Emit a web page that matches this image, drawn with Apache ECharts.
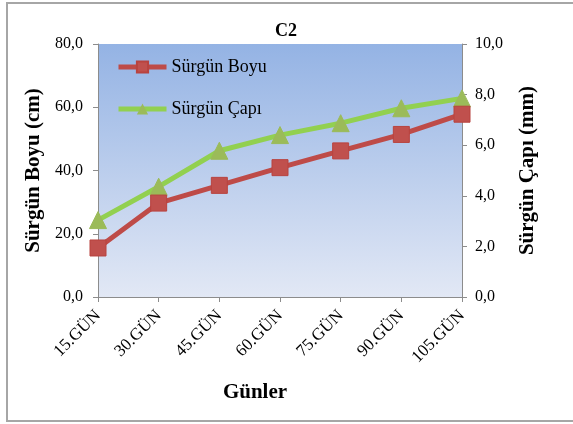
<!DOCTYPE html>
<html><head><meta charset="utf-8">
<script src="https://cdn.jsdelivr.net/npm/echarts@6/dist/echarts.min.js"></script>
<style>
html,body{margin:0;padding:0;background:#fff;}
#frame{position:absolute;left:6px;top:2px;width:570px;height:420px;border:2px solid #a6a6a6;box-sizing:border-box;}
#c{position:absolute;left:0;top:0;width:573px;height:424px;}
</style></head>
<body>
<div id="frame"></div>
<div id="c"></div>
<script>
const categories = ['15.GÜN','30.GÜN','45.GÜN','60.GÜN','75.GÜN','90.GÜN','105.GÜN'];
const boyu = [15.5, 29.7, 35.3, 40.9, 46.2, 51.4, 57.8];
const cap = [3.04, 4.36, 5.78, 6.40, 6.87, 7.46, 7.85];
const leftTicks = [0, 20, 40, 60, 80];
const rightTicks = [0, 2, 4, 6, 8, 10];

const serif = '"Liberation Serif", "DejaVu Serif", serif';
const chart = echarts.init(document.getElementById('c'));
const fmt = v => v.toFixed(1).replace('.', ',');
chart.setOption({
  animation: false,
  title: {text: 'C2', left: 270, top: 17,
    textStyle: {fontFamily: serif, fontWeight: 'bold', fontSize: 18, color: '#000'}},
  grid: {left: 98, right: 111, top: 44, bottom: 127,
    show: true, borderWidth: 0,
    backgroundColor: new echarts.graphic.LinearGradient(0,0,0,1,[
      {offset: 0, color: '#94b3e4'}, {offset: 1, color: '#e2e8f5'}])},
  legend: {left: 111, top: 53, orient: 'vertical', itemGap: 24, itemWidth: 48, itemHeight: 14,
    lineStyle: {width: 5},
    textStyle: {fontFamily: serif, fontSize: 18, color: '#000'},
    data: ['Sürgün Boyu', 'Sürgün Çapı']},
  xAxis: {type: 'category', data: categories, boundaryGap: false,
    name: 'Günler', nameLocation: 'middle', nameGap: 85,
    nameTextStyle: {fontFamily: serif, fontWeight: 'bold', fontSize: 21, color: '#000', padding: [0, 50, 0, 0]},
    axisLine: {lineStyle: {color: '#8c8c8c', width: 1}},
    axisTick: {show: true, length: 5, alignWithLabel: true, lineStyle: {color: '#8c8c8c'}},
    axisLabel: {rotate: 45, fontFamily: serif, fontSize: 17, color: '#000', margin: 16, interval: 0},
    splitLine: {show: false}},
  yAxis: [
    {type: 'value', min: leftTicks[0], max: leftTicks[leftTicks.length-1], interval: 20,
     name: 'Sürgün Boyu (cm)', nameLocation: 'middle', nameGap: 51, nameRotate: 90,
     nameTextStyle: {fontFamily: serif, fontWeight: 'bold', fontSize: 21, color: '#000'},
     axisLine: {show: true, lineStyle: {color: '#8c8c8c'}},
     axisTick: {show: true, length: 5, lineStyle: {color: '#8c8c8c'}},
     axisLabel: {formatter: fmt, fontFamily: serif, fontSize: 16, color: '#000', margin: 15},
     splitLine: {show: false}},
    {type: 'value', min: rightTicks[0], max: rightTicks[rightTicks.length-1], interval: 2,
     name: 'Sürgün Çapı (mm)', nameLocation: 'middle', nameGap: 55, nameRotate: 90,
     nameTextStyle: {fontFamily: serif, fontWeight: 'bold', fontSize: 21, color: '#000'},
     axisLine: {show: true, lineStyle: {color: '#8c8c8c'}},
     axisTick: {show: true, length: 5, lineStyle: {color: '#8c8c8c'}},
     axisLabel: {formatter: fmt, fontFamily: serif, fontSize: 16, color: '#000', margin: 13},
     splitLine: {show: false}}
  ],
  series: [
    {name: 'Sürgün Boyu', type: 'line', yAxisIndex: 0, data: boyu,
     symbol: 'rect', symbolSize: 16, z: 3,
     lineStyle: {color: '#be4b48', width: 5},
     itemStyle: {color: '#c0504d', borderColor: '#b8433f', borderWidth: 1}},
    {name: 'Sürgün Çapı', type: 'line', yAxisIndex: 1, data: cap,
     symbol: 'triangle', symbolSize: 17, z: 2,
     lineStyle: {color: '#92d050', width: 5},
     itemStyle: {color: '#9bbb59', borderColor: '#9bbb59'}}
  ]
});
</script>
</body></html>
